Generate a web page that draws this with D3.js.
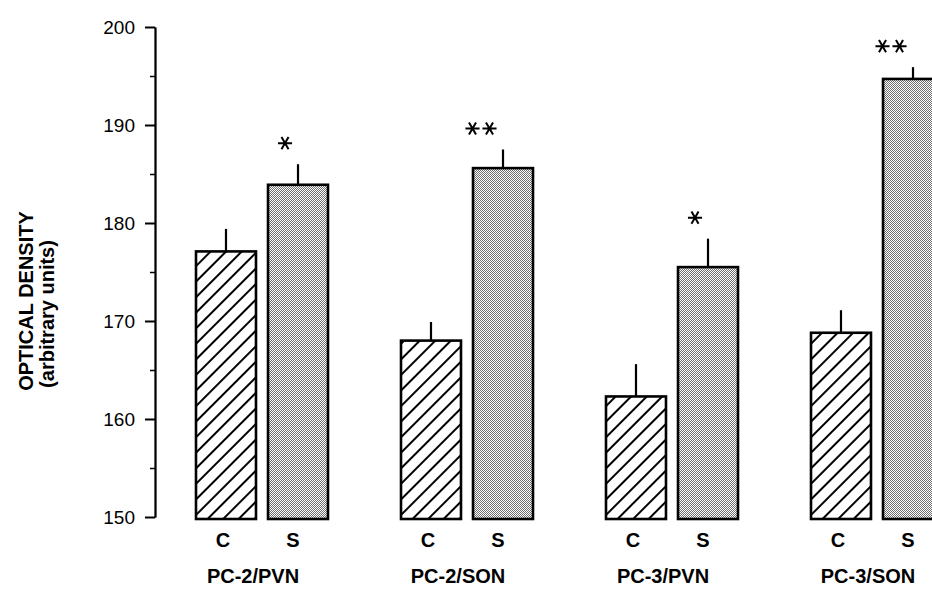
<!DOCTYPE html>
<html>
<head>
<meta charset="utf-8">
<script src="https://cdn.jsdelivr.net/npm/d3@7"></script>
<style>
  body { margin: 0; background: #fff; }
  svg { display: block; font-family: "Liberation Sans", Arial, Helvetica, sans-serif; }
</style>
</head>
<body>
<svg width="932" height="589"></svg>
<script>
// values
var groups = ["PC-2/PVN", "PC-2/SON", "PC-3/PVN", "PC-3/SON"];
var conditions = ["C", "S"];
var controlMeans = [177.1, 168.0, 162.3, 168.8];
var controlErrTop = [179.4, 169.9, 165.6, 171.1];
var stressMeans = [183.9, 185.6, 175.5, 194.7];
var stressErrTop = [186.0, 187.5, 178.4, 195.9];
var stars = ["*", "**", "*", "**"];
var yTicks = [150, 160, 170, 180, 190, 200];
var yMinorTicks = [155, 165, 175, 185, 195];

var svg = d3.select("svg");

var yScale = d3.scaleLinear([150, 200], [517, 27]);
var groupScale = d3.scaleBand(groups, [175, 995]);
var condScale = d3.scaleBand(conditions, [21, 153]).paddingInner(0.167);

// fill patterns
var defs = svg.append("defs");
var hatch = defs.append("pattern")
    .attr("id", "hatch")
    .attr("patternUnits", "userSpaceOnUse")
    .attr("width", 11)
    .attr("height", 11)
    .attr("patternTransform", "rotate(45)");
hatch.append("rect").attr("width", 11).attr("height", 11).attr("fill", "#fff");
hatch.append("line")
    .attr("x1", 5).attr("y1", 0).attr("x2", 5).attr("y2", 11)
    .attr("stroke", "#000").attr("stroke-width", 2);

var dots = defs.append("pattern")
    .attr("id", "dots")
    .attr("patternUnits", "userSpaceOnUse")
    .attr("width", 2)
    .attr("height", 2);
dots.append("rect").attr("width", 2).attr("height", 2).attr("fill", "#fff");
dots.append("rect").attr("width", 1).attr("height", 1).attr("fill", "#6e6e6e");
dots.append("rect").attr("x", 1).attr("y", 1).attr("width", 1).attr("height", 1).attr("fill", "#6e6e6e");

var rows = groups.map(function(g, i) {
    return [
        { group: g, cond: "C", value: controlMeans[i], err: controlErrTop[i], star: "" },
        { group: g, cond: "S", value: stressMeans[i], err: stressErrTop[i], star: stars[i] }
    ];
});

var groupG = svg.selectAll("g.group")
    .data(rows)
    .enter()
    .append("g")
    .attr("class", "group")
    .attr("transform", function(d) {
        return "translate(" + groupScale(d[0].group) + ",0)";
    });

var barG = groupG.selectAll("g.bar")
    .data(function(d) { return d; })
    .enter()
    .append("g")
    .attr("class", "bar");

// error bars (drawn first so the bar outline sits on top)
barG.append("line")
    .attr("x1", function(d) { return condScale(d.cond) + condScale.bandwidth() / 2; })
    .attr("x2", function(d) { return condScale(d.cond) + condScale.bandwidth() / 2; })
    .attr("y1", function(d) { return yScale(d.value); })
    .attr("y2", function(d) { return yScale(d.err); })
    .attr("stroke", "#000")
    .attr("stroke-width", 2.2);

barG.append("rect")
    .attr("x", function(d) { return condScale(d.cond); })
    .attr("width", condScale.bandwidth())
    .attr("y", function(d) { return yScale(d.value); })
    .attr("height", function(d) { return yScale(150) - yScale(d.value) + 2; })
    .attr("fill", function(d) { return d.cond == "C" ? "url(#hatch)" : "url(#dots)"; })
    .attr("stroke", "#000")
    .attr("stroke-width", 2.6);

// C / S labels
barG.append("text")
    .attr("x", function(d) { return condScale(d.cond) + condScale.bandwidth() / 2 - (d.cond == "S" ? 5 : 3); })
    .attr("y", 547)
    .attr("text-anchor", "middle")
    .attr("font-weight", "bold")
    .attr("font-size", 20)
    .text(function(d) { return d.cond; });

// significance stars
var star = d3.symbol(d3.symbolAsterisk, 140);
barG.filter(function(d) { return d.star != ""; })
    .each(function(d) {
        var n = d.star.length;
        var cx = condScale(d.cond) + condScale.bandwidth() / 2 - (n == 1 ? 13 : 22);
        var cy = yScale(d.err) - 21;
        for (var k = 0; k < n; k++) {
            d3.select(this).append("path")
                .attr("d", star)
                .attr("transform", "translate(" + (cx + (k - (n - 1) / 2) * 17) + "," + cy + ") rotate(90)")
                .attr("fill", "none")
                .attr("stroke", "#000")
                .attr("stroke-width", 2);
        }
    });

// group labels
groupG.append("text")
    .attr("x", 78)
    .attr("y", 583)
    .attr("text-anchor", "middle")
    .attr("font-weight", "bold")
    .attr("font-size", 20)
    .text(function(d) { return d[0].group; });

// y axis
var yAxis = d3.axisLeft(yScale).tickValues(yTicks).tickSize(10).tickSizeOuter(0).tickPadding(10);
var yMinor = d3.axisLeft(yScale).tickValues(yMinorTicks).tickSize(5).tickSizeOuter(0).tickFormat("");

var axisG = svg.append("g")
    .attr("transform", "translate(155,0)")
    .call(yAxis);
axisG.selectAll("text").attr("font-size", 19).attr("fill", "#000").attr("font-family", null);
axisG.selectAll("line, path").attr("stroke", "#000").attr("stroke-width", 2);

svg.append("g")
    .attr("transform", "translate(155,0)")
    .call(yMinor)
    .selectAll("line, path").attr("stroke", "#000").attr("stroke-width", 1.5);

// y axis title
svg.append("text")
    .attr("transform", "translate(33,301) rotate(-90)")
    .attr("text-anchor", "middle")
    .attr("font-weight", "bold")
    .attr("font-size", 20)
    .text("OPTICAL DENSITY");
svg.append("text")
    .attr("transform", "translate(54,314) rotate(-90)")
    .attr("text-anchor", "middle")
    .attr("font-weight", "bold")
    .attr("font-size", 20)
    .text("(arbitrary units)");
</script>
</body>
</html>
